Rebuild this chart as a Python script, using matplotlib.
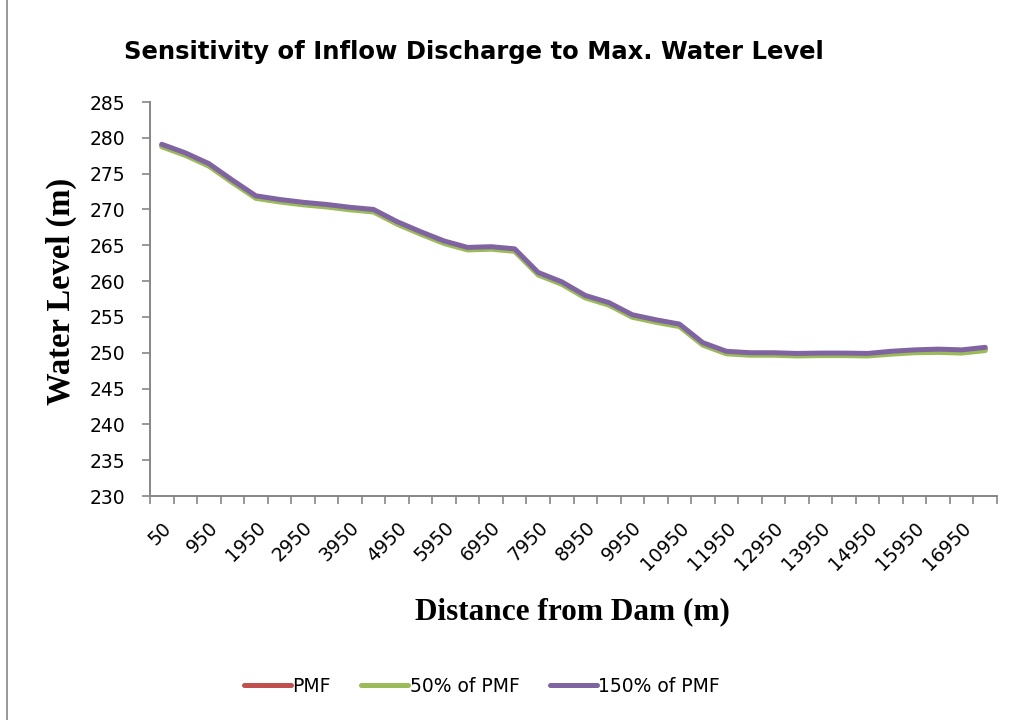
import numpy as np
import matplotlib.pyplot as plt
from matplotlib.lines import Line2D

# distance stations along the river (m)
distance = [50, 500] + list(range(950, 17451, 500))

# maximum water level (m) for each inflow scenario
level_150 = [279.1, 277.9, 276.4, 274.1, 271.9, 271.4, 271.0, 270.7, 270.3, 270.0,
             268.3, 266.9, 265.6, 264.7, 264.8, 264.5, 261.2, 259.9, 258.0, 257.0,
             255.3, 254.6, 254.0, 251.4, 250.2, 250.0, 250.0, 249.9, 249.95, 249.95,
             249.9, 250.2, 250.4, 250.5, 250.4, 250.75]
level_pmf = [278.95, 277.75, 276.25, 273.95, 271.75, 271.25, 270.85, 270.55, 270.15, 269.85,
             268.15, 266.75, 265.45, 264.55, 264.65, 264.35, 261.05, 259.75, 257.85, 256.85,
             255.15, 254.45, 253.85, 251.25, 250.05, 249.85, 249.85, 249.75, 249.8, 249.8,
             249.75, 250.0, 250.2, 250.3, 250.2, 250.5]
level_50 = [278.75, 277.55, 276.05, 273.75, 271.55, 271.05, 270.65, 270.35, 269.95, 269.65,
            267.95, 266.55, 265.25, 264.35, 264.45, 264.15, 260.85, 259.55, 257.65, 256.65,
            254.95, 254.25, 253.65, 251.05, 249.85, 249.65, 249.65, 249.55, 249.6, 249.6,
            249.55, 249.8, 250.0, 250.05, 249.95, 250.3]

series = [("PMF", level_pmf, "#C0504D"),
          ("50% of PMF", level_50, "#9BBB59"),
          ("150% of PMF", level_150, "#8064A2")]

SANS = "DejaVu Sans"
SERIF = "Liberation Serif"
GREY = "#868686"

fig = plt.figure(figsize=(10.25, 7.2), dpi=100)
ax = fig.add_axes([150 / 1025, 1 - 496 / 720, 847 / 1025, 394 / 720])

x = np.arange(len(distance))
for name, vals, col in series:
    ax.plot(x, vals, color=col, lw=3.6, solid_capstyle="round", solid_joinstyle="round")

ax.set_xlim(-0.5, len(distance) - 0.5)
ax.set_ylim(230, 285)
ax.set_yticks(np.arange(230, 286, 5))

# tick marks sit between categories, labels on every second category
ax.set_xticks(np.arange(-0.5, len(distance), 1.0))
ax.set_xticklabels([])
ax.set_xticks(x[::2], minor=True)
ax.set_xticklabels([str(d) for d in distance[::2]], minor=True,
                   rotation=45, ha="right", rotation_mode="anchor",
                   family=SANS, fontsize=13.5)
ax.tick_params(axis="x", which="minor", length=0, pad=16)
ax.tick_params(axis="x", which="major", length=6, width=1.2, color=GREY)
ax.tick_params(axis="y", length=6, width=1.2, color=GREY, pad=12)
for lab in ax.get_yticklabels():
    lab.set_family(SANS)
    lab.set_fontsize(13.5)

for side in ("top", "right"):
    ax.spines[side].set_visible(False)
for side in ("left", "bottom"):
    ax.spines[side].set_color(GREY)
    ax.spines[side].set_linewidth(1.4)

fig.text(474 / 1025, 1 - 52 / 720, "Sensitivity of Inflow Discharge to Max. Water Level",
         ha="center", va="center", family=SANS, fontweight="bold", fontsize=17.5)
fig.text(572 / 1025, 1 - 612 / 720, "Distance from Dam (m)", ha="center", va="center",
         family=SERIF, fontweight="bold", fontsize=22.5)
fig.text(61 / 1025, 1 - 291 / 720, "Water Level (m)", ha="center", va="center",
         rotation=90, family=SERIF, fontweight="bold", fontsize=23.5)

handles = [Line2D([], [], color=c, lw=3.6, solid_capstyle="round") for _, _, c in series]
fig.legend(handles, [s[0] for s in series], loc="center", bbox_to_anchor=(482 / 1025, 1 - 686 / 720),
           ncol=3, frameon=False, handlelength=2.5, handletextpad=0.1, columnspacing=1.6,
           prop={"family": SANS, "size": 13.5})

# chart area border
fig.add_artist(Line2D([7 / 1025, 7 / 1025], [0, 1], color=GREY, lw=1.2))

fig.savefig("out.png", dpi=100)
